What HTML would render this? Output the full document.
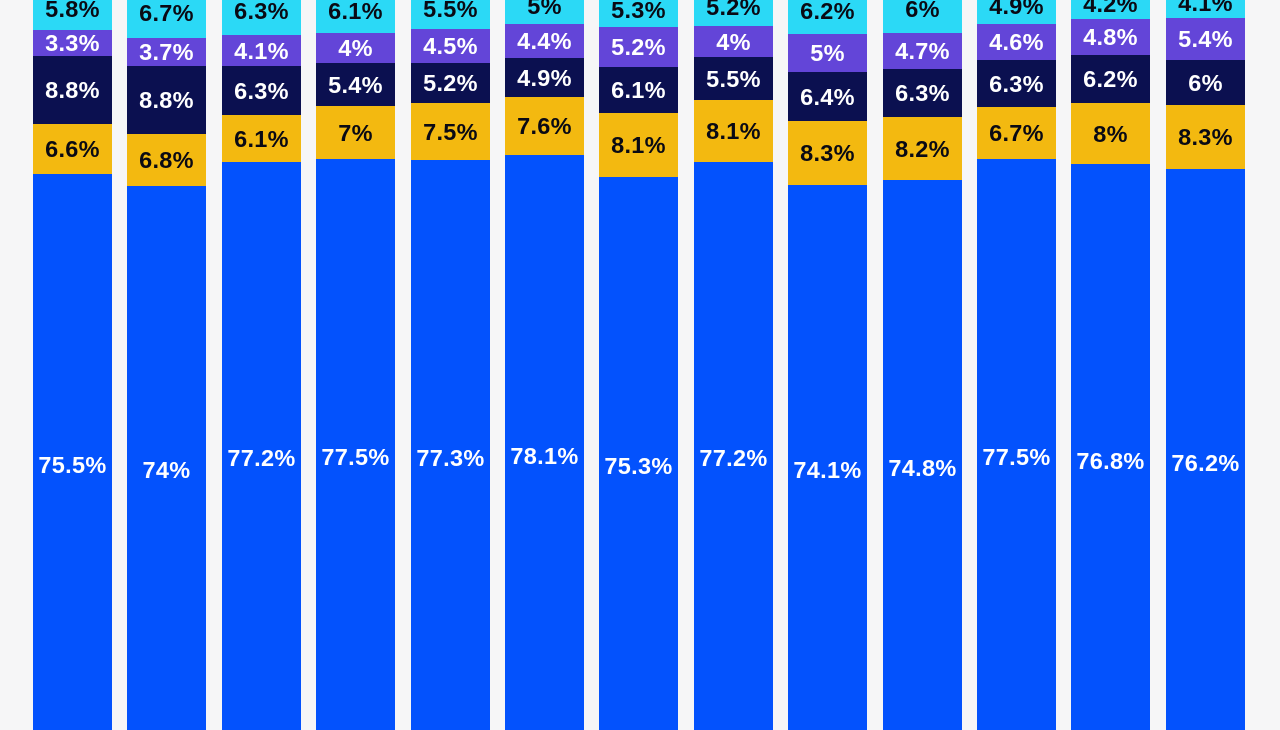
<!DOCTYPE html>
<html><head><meta charset="utf-8"><style>
body{margin:0;width:1280px;height:720px;background:#f6f6f7;position:relative;overflow:hidden;font-family:"Liberation Sans",sans-serif;font-weight:bold}
.s{position:absolute;width:79px}
.l{position:absolute;width:79px;text-align:center;font-size:23.5px;line-height:26px;margin-top:-13px;letter-spacing:0.3px}
.c{background:#2bd9f6}.p{background:#6345d8}.n{background:#0b1050}.y{background:#f3b910}.b{background:#0352fd}
.dk{color:#0a0a14}.wt{color:#fff}
</style></head><body>
<div id="r"></div>
<script>
const d=[
[30,56,124,174,9,465,["5.8%","3.3%","8.8%","6.6%","75.5%"]],
[38,66,134,186,13,470,["6.7%","3.7%","8.8%","6.8%","74%"]],
[35,66,115,162,11,458,["6.3%","4.1%","6.3%","6.1%","77.2%"]],
[33,63,106,159,11,457,["6.1%","4%","5.4%","7%","77.5%"]],
[29,63,103,160,9,458,["5.5%","4.5%","5.2%","7.5%","77.3%"]],
[24,58,97,155,6,456,["5%","4.4%","4.9%","7.6%","78.1%"]],
[27,67,113,177,10,466,["5.3%","5.2%","6.1%","8.1%","75.3%"]],
[26,57,100,162,7,458,["5.2%","4%","5.5%","8.1%","77.2%"]],
[34,72,121,185,11,470,["6.2%","5%","6.4%","8.3%","74.1%"]],
[33,69,117,180,9,468,["6%","4.7%","6.3%","8.2%","74.8%"]],
[24,60,107,159,6,457,["4.9%","4.6%","6.3%","6.7%","77.5%"]],
[19,55,103,164,4,461,["4.2%","4.8%","6.2%","8%","76.8%"]],
[18,60,105,169,3,463,["4.1%","5.4%","6%","8.3%","76.2%"]]];
let h="";
d.forEach((e,i)=>{const x=Math.round(33+i*94.4);const[p,n,y,b,cl,bl,t]=e;
const seg=(cls,t0,t1)=>`<div class="s ${cls}" style="left:${x}px;top:${t0}px;height:${t1-t0}px"></div>`;
h+=seg("c",-10,p)+seg("p",p,n)+seg("n",n,y)+seg("y",y,b)+seg("b",b,730);
const lab=(c,yy,tx)=>`<div class="l ${c}" style="left:${x}px;top:${yy}px">${tx}</div>`;
h+=lab("dk",cl,t[0])+lab("wt",(p+n)/2,t[1])+lab("wt",(n+y)/2,t[2])+lab("dk",(y+b)/2,t[3])+lab("wt",bl,t[4]);});
document.getElementById("r").innerHTML=h;
</script>
</body></html>
